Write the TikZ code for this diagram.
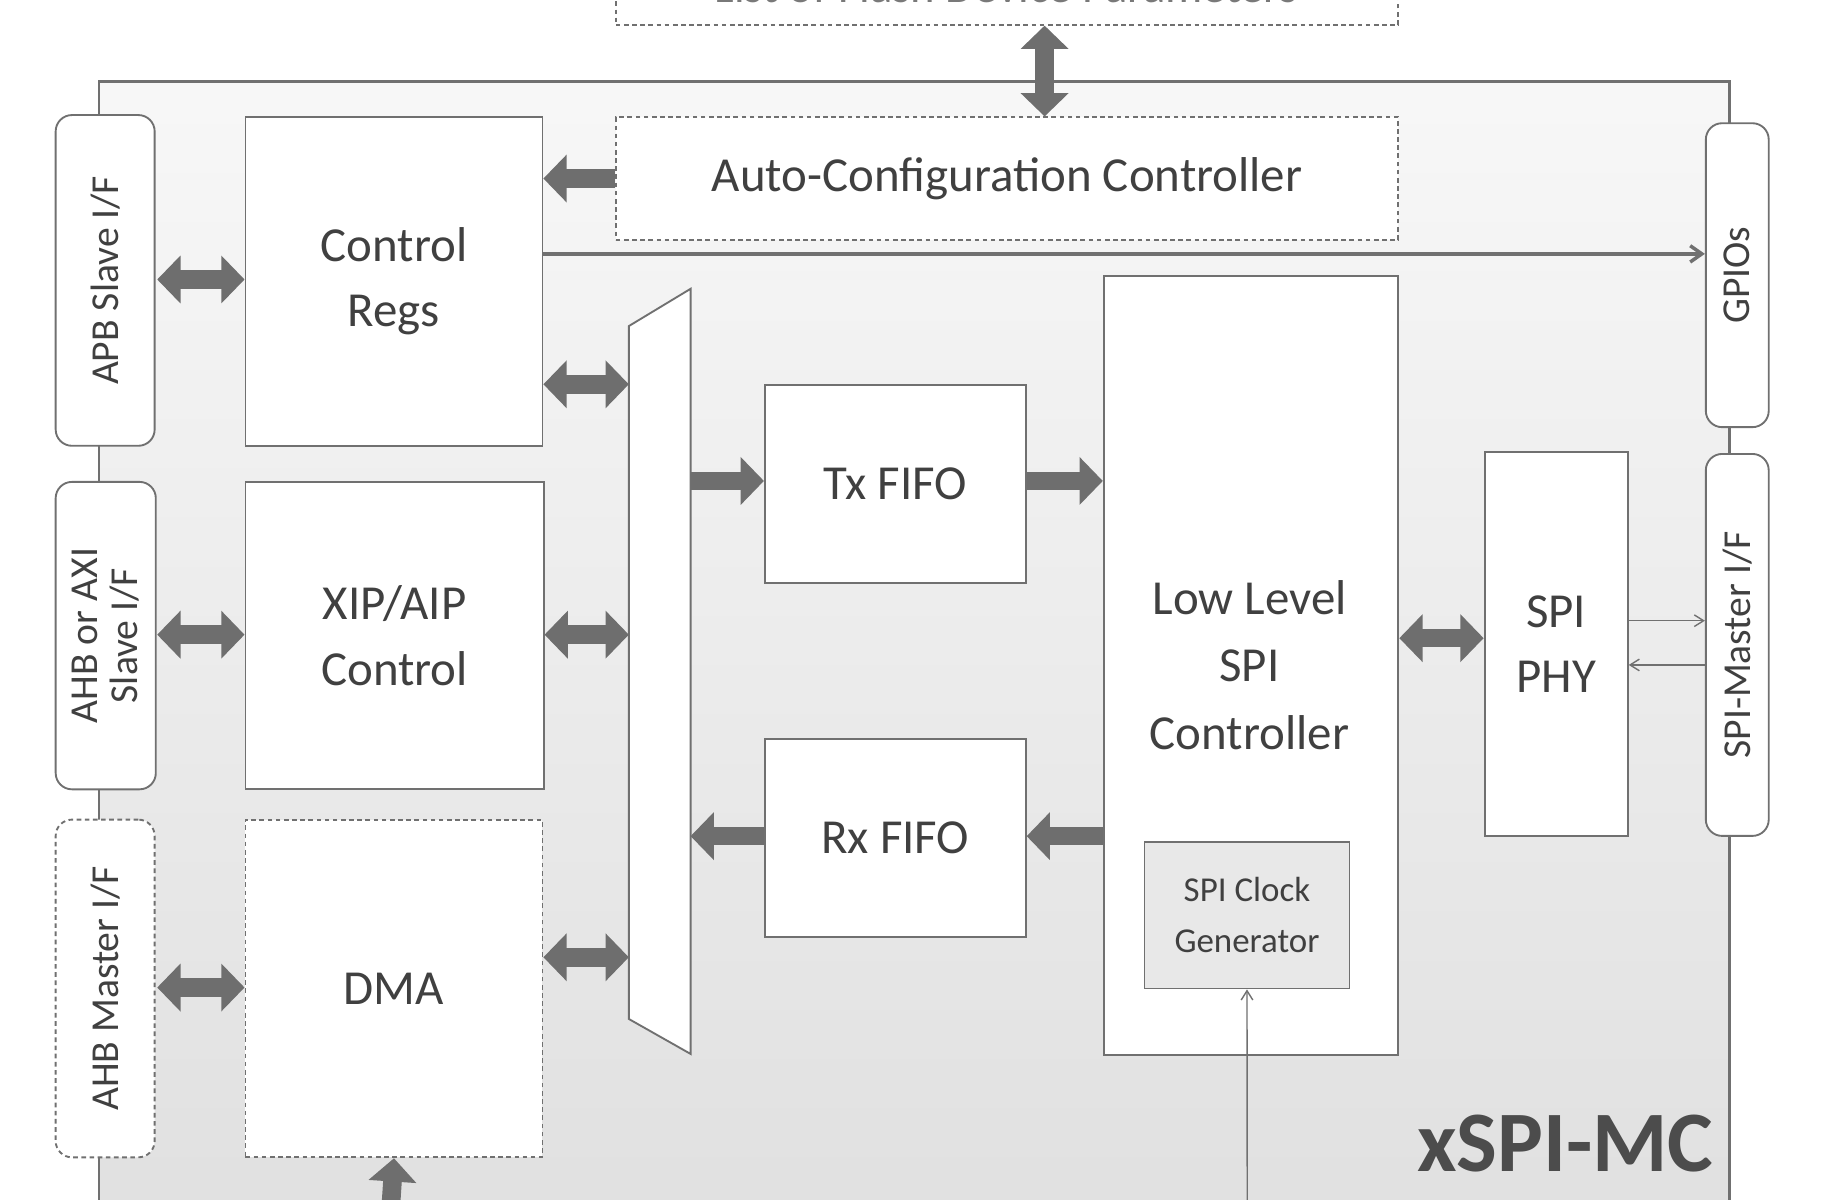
\documentclass[tikz,border=0pt]{standalone}
\usepackage{fontspec}
\setmainfont{Carlito}
\usetikzlibrary{arrows.meta,shapes.geometric}
\definecolor{tx}{HTML}{404040}
\definecolor{ar}{HTML}{6E6E6E}
\definecolor{ln}{HTML}{707070}
\begin{document}
\begin{tikzpicture}[x=1pt,y=-1pt,
  box/.style={draw=ln,line width=1.6pt,fill=white,text=tx,align=center,font=\fontsize{42}{56}\selectfont},
  dbox/.style={box,dashed,dash pattern=on 4pt off 3pt},
  pill/.style={draw=ln,line width=1.6pt,fill=white,rounded corners=14pt,text=tx},
  fat/.style={draw=ar,line width=16pt,{Triangle[length=20pt,width=40pt]}-{Triangle[length=20pt,width=40pt]}},
  fatr/.style={draw=ar,line width=16pt,-{Triangle[length=20pt,width=40pt]}},
  thin/.style={draw=ln,line width=1.2pt,-{Straight Barb[length=8pt,width=10pt]}},
  thin2/.style={draw=ln,line width=3pt,-{Straight Barb[length=10pt,width=14pt]}},
  rot/.style={rotate=90,text=tx,font=\fontsize{34}{40}\selectfont,align=center}]
\useasboundingbox (0,0) rectangle (1568,1030);
\begin{scope}
\clip (0,0) rectangle (1568,1030);
\shade[top color=black!3,bottom color=black!12] (85,70) rectangle (1485,1040);
\draw[ln,line width=2.2pt] (85,1040) -- (85,70) -- (1485,70) -- (1485,1040);
\node[dbox,minimum width=672pt,minimum height=80pt,anchor=south west] (top) at (528,22) {};
\node[text=tx!70,font=\fontsize{40}{48}\selectfont,anchor=base] (toptxt) at (864,2) {List of Flash Device Parameters};
\end{scope}
\node[dbox,minimum width=672pt,minimum height=105pt,anchor=north west] (acc) at (528,100) {Auto-Configuration Controller};
\coordinate (ta) at (897,22);
\draw[fat] (ta) -- (ta|-acc.north);
\node[pill,minimum width=85pt,minimum height=284pt,anchor=north west] (apb) at (47,98) {};
\node[rot] at (apb) {APB Slave I/F};
\node[pill,minimum width=86pt,minimum height=264pt,anchor=north west] (ahb) at (47,413) {};
\node[rot] at (ahb) {AHB or AXI\\[-6pt]Slave I/F};
\node[pill,dashed,dash pattern=on 4pt off 3pt,minimum width=85pt,minimum height=290pt,anchor=north west] (ahbm) at (47,703) {};
\node[rot] at (ahbm) {AHB Master I/F};
\node[box,minimum width=255pt,minimum height=282pt,anchor=north west] (cr) at (210,100) {Control\\Regs};
\node[box,minimum width=256pt,minimum height=264pt,anchor=north west] (xip) at (210,413) {XIP/AIP\\Control};
\node[dbox,minimum width=255pt,minimum height=290pt,anchor=north west] (dma) at (210,703) {DMA};
\draw[fatr] (acc.west) -- (cr.east|-acc.west);
\path[draw=ln,line width=1.6pt,fill=white] (540,280) -- (593,248) -- (593,905) -- (540,875) -- cycle;
\draw[fat] (135,240) -- (cr.west|-0,240);
\draw[fat] (135,545) -- (xip.west|-0,545);
\draw[fat] (135,848) -- (dma.west|-0,848);
\draw[fat] (cr.east|-0,330) -- (540,330);
\draw[fat] (xip.east|-0,545) -- (540,545);
\draw[fat] (dma.east|-0,822) -- (540,822);
\node[box,minimum width=224pt,minimum height=170pt,anchor=north west] (tx) at (656,330) {Tx FIFO};
\node[box,minimum width=224pt,minimum height=170pt,anchor=north west] (rx) at (656,634) {Rx FIFO};
\node[box,minimum width=253pt,minimum height=669pt,anchor=north west] (ll) at (947,236) {};
\node[text=tx,align=center,font=\fontsize{42}{58}\selectfont] at (1073,571) {Low Level\\SPI\\Controller};
\node[box,fill=black!9,minimum width=176pt,minimum height=126pt,anchor=north west,font=\fontsize{30}{44}\selectfont] (clk) at (982,722) {SPI Clock\\Generator};
\draw[fatr] (593,413) -- (tx.west|-0,413);
\draw[fatr] (tx.east|-0,413) -- (ll.west|-0,413);
\draw[fatr] (ll.west|-0,718) -- (rx.east|-0,718);
\draw[fatr] (rx.west|-0,718) -- (593,718);
\node[box,minimum width=123pt,minimum height=330pt,anchor=north west] (phy) at (1274,387) {SPI\\PHY};
\draw[fat] (ll.east|-0,548) -- (phy.west|-0,548);
\node[pill,minimum width=54pt,minimum height=261pt,anchor=north west] (gpio) at (1464,105) {};
\node[rot] at (gpio) {GPIOs};
\node[pill,minimum width=54pt,minimum height=328pt,anchor=north west] (spim) at (1464,389) {};
\node[rot] at (spim) {SPI-Master I/F};
\draw[thin] (phy.east|-0,533) -- (spim.west|-0,533);
\draw[thin] (spim.west|-0,571) -- (phy.east|-0,571);
\draw[thin2] (cr.east|-0,218) -- (gpio.west|-0,218);
\coordinate (cin) at (1071,1035);
\draw[thin] (cin) -- (clk.south);
\coordinate (din) at (335,1045);
\draw[fatr] (din) -- (dma.south);
\node[anchor=south east,text=black!70,font=\fontsize{74}{80}\selectfont\bfseries] (title) at (1475,1010) {xSPI-MC};
\end{tikzpicture}
\end{document}
